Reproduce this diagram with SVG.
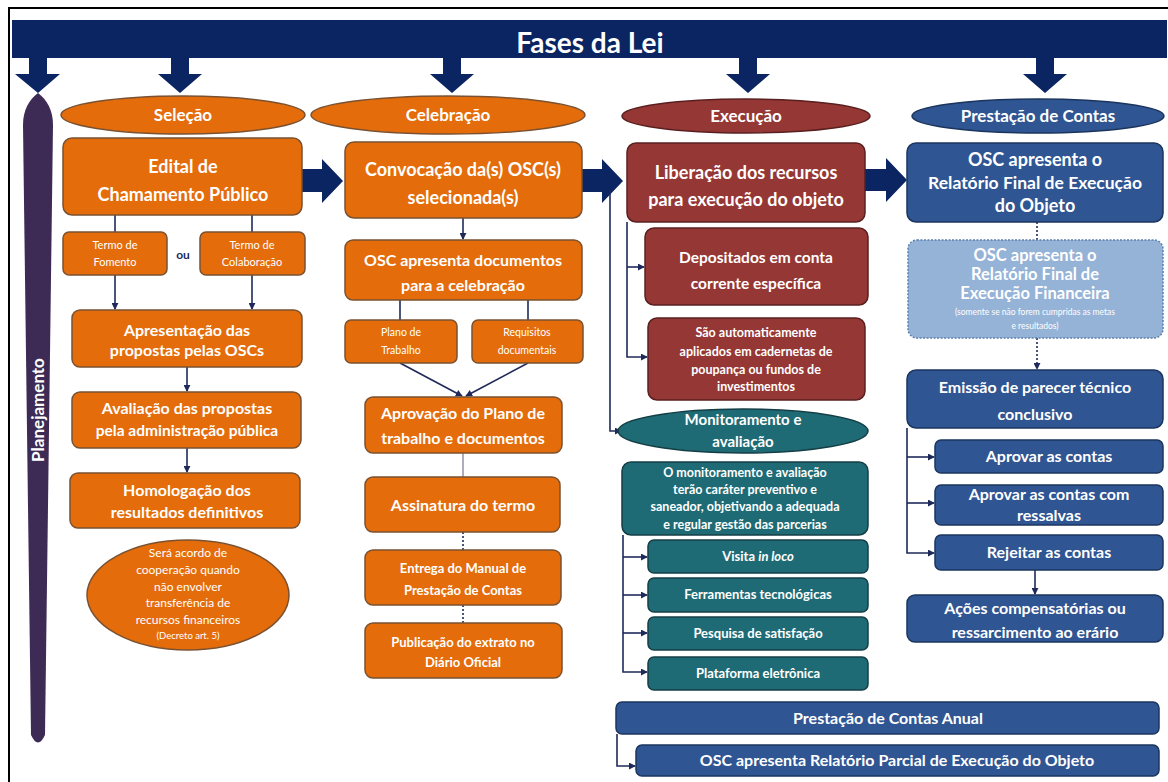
<svg xmlns="http://www.w3.org/2000/svg" width="1168" height="782" viewBox="0 0 1168 782">
<defs>
<style>
text{font-family:Lato,"Open Sans","Liberation Sans",sans-serif;font-weight:bold;fill:#fff;text-anchor:middle}
.o{fill:#e46c0a;stroke:#7a5232;stroke-width:1.5}
.r{fill:#953735;stroke:#5a2020;stroke-width:1.5}
.t{fill:#1f6b75;stroke:#143f46;stroke-width:1.5}
.b{fill:#2f5592;stroke:#1c355e;stroke-width:1.5}
.lb{fill:#95b3d7;stroke:#5b7fae;stroke-width:1.5;stroke-dasharray:2 1.5}
.nv{fill:#0b2462}
.ln{fill:none;stroke:#1f2a5a;stroke-width:1.6}
.dt{fill:none;stroke:#1f2a5a;stroke-width:1.6;stroke-dasharray:2 2}
.gl{fill:none;stroke:#8a8aa0;stroke-width:1.4}
.sm{font-weight:normal}
</style>
<marker id="ah" viewBox="0 0 8 8" refX="7" refY="4" markerWidth="7" markerHeight="7" markerUnits="userSpaceOnUse" orient="auto">
<path d="M0,0 L8,4 L0,8 Z" fill="#1f2a5a"/>
</marker>
</defs>
<rect width="1168" height="782" fill="#fff"/>
<g id="frame">
<path d="M9,782 V8 H1168" fill="none" stroke="#000" stroke-width="2"/>
</g>
<g id="banner">
<rect x="12" y="20" width="1155" height="38" class="nv"/>
<text x="590" y="53" font-size="28">Fases da Lei</text>
<path class="nv" d="M29,58 V74 H15 L38,93 L60,74 H47 V58 Z"/>
<path class="nv" d="M171,58 V74 H158 L180,93 L202,74 H189 V58 Z"/>
<path class="nv" d="M443,58 V74 H430 L452,93 L474,74 H461 V58 Z"/>
<path class="nv" d="M739,58 V74 H726 L748,93 L770,74 H757 V58 Z"/>
<path class="nv" d="M1036,58 V74 H1023 L1045,93 L1067,74 H1054 V58 Z"/>
</g>
<g id="planejamento">
<path d="M38,93 C47,100 53,110 53,125 L45,735 Q38,750 31,735 L23,125 C23,110 29,100 38,93 Z" fill="#3d2b56"/>
<text x="0" y="0" font-size="17" transform="translate(44,410) rotate(-90)">Planejamento</text>
</g>
<g id="connectors">
<path class="nv" d="M302,169 H322 V159 L343,181 L322,203 V192 H302 Z"/>
<path class="nv" d="M582,169 H602 V159 L623,181 L602,203 V192 H582 Z"/>
<path class="nv" d="M865,169 H886 V158 L907,180 L886,202 V191 H865 Z"/>
<path class="ln" d="M115,215 V232"/>
<path class="ln" d="M252,215 V232"/>
<path class="ln" d="M115,275 V309" marker-end="url(#ah)"/>
<path class="ln" d="M252,275 V309" marker-end="url(#ah)"/>
<path class="ln" d="M187,367 V391" marker-end="url(#ah)"/>
<path class="ln" d="M187,448 V472" marker-end="url(#ah)"/>
<path class="ln" d="M463,218 V239" marker-end="url(#ah)"/>
<path class="ln" d="M400,300 V320"/>
<path class="ln" d="M528,300 V320"/>
<path class="ln" d="M400,363 L462,396" marker-end="url(#ah)"/>
<path class="ln" d="M528,363 L466,396" marker-end="url(#ah)"/>
<path class="gl" d="M463,453 V477"/>
<path class="dt" d="M463,532 V550"/>
<path class="dt" d="M463,605 V623"/>
<path class="ln" d="M610,190 V431 H621" marker-end="url(#ah)"/>
<path class="ln" d="M627,222 V357 H647" marker-end="url(#ah)"/>
<path class="ln" d="M627,267 H644" marker-end="url(#ah)"/>
<path class="ln" d="M623,535 V672 H647" marker-end="url(#ah)"/>
<path class="ln" d="M623,557 H647" marker-end="url(#ah)"/>
<path class="ln" d="M623,595 H647" marker-end="url(#ah)"/>
<path class="ln" d="M623,633 H647" marker-end="url(#ah)"/>
<path class="dt" d="M1037,222 V240"/>
<path class="dt" d="M1037,338 V369" marker-end="url(#ah)"/>
<path class="ln" d="M907,428 V553 H934" marker-end="url(#ah)"/>
<path class="ln" d="M907,457 H934" marker-end="url(#ah)"/>
<path class="ln" d="M907,503 H934" marker-end="url(#ah)"/>
<path class="ln" d="M1035,570 V594" marker-end="url(#ah)"/>
<path class="ln" d="M617,734 V766 H635" marker-end="url(#ah)"/>
</g>
<g id="selecao">
<ellipse cx="183" cy="115" rx="122" ry="19" class="o"/>
<text x="183" y="121" font-size="17">Seleção</text>
</g>
<g id="edital">
<rect x="63" y="138" width="239" height="77" rx="9" class="o"/>
<text x="183" y="173" font-size="18">Edital de</text>
<text x="183" y="201" font-size="18">Chamamento  Público</text>
</g>
<g id="termo-fomento">
<rect x="63" y="232" width="104" height="43" rx="6" class="o"/>
<text x="115" y="249" font-size="11" class="sm">Termo de</text>
<text x="115" y="266" font-size="11" class="sm">Fomento</text>
</g>
<text id="ou" x="183" y="259" font-size="12" style="fill:#1f2a5a">ou</text>
<g id="termo-colaboracao">
<rect x="200" y="232" width="105" height="43" rx="6" class="o"/>
<text x="252" y="249" font-size="11" class="sm">Termo de</text>
<text x="252" y="266" font-size="11" class="sm">Colaboração</text>
</g>
<g id="apresentacao">
<rect x="72" y="310" width="230" height="57" rx="8" class="o"/>
<text x="187" y="336" font-size="16">Apresentação das</text>
<text x="187" y="356" font-size="16">propostas pelas OSCs</text>
</g>
<g id="avaliacao">
<rect x="72" y="392" width="229" height="56" rx="8" class="o"/>
<text x="187" y="414" font-size="16">Avaliação das propostas</text>
<text x="187" y="436" font-size="15.5">pela administração pública</text>
</g>
<g id="homologacao">
<rect x="70" y="473" width="230" height="55" rx="8" class="o"/>
<text x="187" y="496" font-size="16">Homologação dos</text>
<text x="187" y="518" font-size="16">resultados definitivos</text>
</g>
<g id="acordo">
<ellipse cx="188" cy="595" rx="101" ry="55" class="o"/>
<text x="188" y="557" font-size="12" class="sm">Será acordo de</text>
<text x="188" y="574" font-size="12" class="sm">cooperação quando</text>
<text x="188" y="591" font-size="12" class="sm">não envolver</text>
<text x="188" y="607" font-size="12" class="sm">transferência de</text>
<text x="188" y="624" font-size="12" class="sm">recursos financeiros</text>
<text x="188" y="639" font-size="9.5" class="sm">(Decreto art. 5)</text>
</g>
<g id="celebracao">
<ellipse cx="448" cy="115" rx="137" ry="19" class="o"/>
<text x="448" y="121" font-size="17">Celebração</text>
</g>
<g id="convocacao">
<rect x="345" y="142" width="237" height="76" rx="9" class="o"/>
<text x="463" y="176" font-size="18">Convocação  da(s) OSC(s)</text>
<text x="463" y="204" font-size="18">selecionada(s)</text>
</g>
<g id="osc-documentos">
<rect x="345" y="240" width="237" height="60" rx="8" class="o"/>
<text x="463" y="266" font-size="16">OSC apresenta documentos</text>
<text x="463" y="291" font-size="16">para a celebração</text>
</g>
<g id="plano-trabalho">
<rect x="345" y="320" width="112" height="43" rx="6" class="o"/>
<text x="401" y="336" font-size="10.5" class="sm">Plano de</text>
<text x="401" y="354" font-size="10.5" class="sm">Trabalho</text>
</g>
<g id="requisitos">
<rect x="472" y="320" width="111" height="43" rx="6" class="o"/>
<text x="527" y="336" font-size="10.5" class="sm">Requisitos</text>
<text x="527" y="354" font-size="10.5" class="sm">documentais</text>
</g>
<g id="aprovacao-plano">
<rect x="365" y="397" width="197" height="56" rx="8" class="o"/>
<text x="463" y="419" font-size="16">Aprovação do Plano de</text>
<text x="463" y="444" font-size="16">trabalho e documentos</text>
</g>
<g id="assinatura">
<rect x="365" y="477" width="195" height="55" rx="8" class="o"/>
<text x="463" y="511" font-size="16">Assinatura do termo</text>
</g>
<g id="entrega-manual">
<rect x="365" y="550" width="196" height="55" rx="8" class="o"/>
<text x="463" y="573" font-size="13">Entrega do Manual de</text>
<text x="463" y="595" font-size="13">Prestação de Contas</text>
</g>
<g id="publicacao">
<rect x="365" y="623" width="197" height="55" rx="8" class="o"/>
<text x="463" y="647" font-size="13">Publicação do extrato no</text>
<text x="463" y="667" font-size="13">Diário Oficial</text>
</g>
<g id="execucao">
<ellipse cx="746" cy="116" rx="124" ry="17" class="r"/>
<text x="746" y="122" font-size="17">Execução</text>
</g>
<g id="liberacao">
<rect x="627" y="143" width="238" height="79" rx="9" class="r"/>
<text x="746" y="179" font-size="18">Liberação  dos recursos</text>
<text x="746" y="206" font-size="18">para  execução do objeto</text>
</g>
<g id="depositados">
<rect x="645" y="228" width="223" height="77" rx="9" class="r"/>
<text x="756" y="263" font-size="15.5">Depositados em conta</text>
<text x="756" y="289" font-size="15.5">corrente específica</text>
</g>
<g id="aplicados">
<rect x="648" y="318" width="217" height="82" rx="9" class="r"/>
<text x="756" y="337" font-size="12.5">São automaticamente</text>
<text x="756" y="356" font-size="12.5">aplicados em cadernetas de</text>
<text x="756" y="374" font-size="12.5">poupança ou fundos de</text>
<text x="756" y="391" font-size="12.5">investimentos</text>
</g>
<g id="monitoramento">
<ellipse cx="743" cy="431" rx="125" ry="22" class="t"/>
<text x="743" y="425" font-size="15">Monitoramento e</text>
<text x="743" y="447" font-size="15">avaliação</text>
</g>
<g id="monitoramento-desc">
<rect x="622" y="462" width="246" height="73" rx="9" class="t"/>
<text x="745" y="477" font-size="12.5">O monitoramento e avaliação</text>
<text x="745" y="494" font-size="12.5">terão caráter preventivo e</text>
<text x="745" y="511" font-size="12.5">saneador, objetivando a adequada</text>
<text x="745" y="529" font-size="12.5">e regular gestão das parcerias</text>
</g>
<g id="visita">
<rect x="648" y="540" width="220" height="33" rx="6" class="t"/>
<text x="758" y="561" font-size="13">Visita <tspan font-style="italic">in loco</tspan></text>
</g>
<g id="ferramentas">
<rect x="648" y="578" width="220" height="34" rx="6" class="t"/>
<text x="758" y="599" font-size="13">Ferramentas tecnológicas</text>
</g>
<g id="pesquisa">
<rect x="648" y="617" width="220" height="33" rx="6" class="t"/>
<text x="758" y="638" font-size="13">Pesquisa de satisfação</text>
</g>
<g id="plataforma">
<rect x="648" y="657" width="220" height="33" rx="6" class="t"/>
<text x="758" y="678" font-size="13">Plataforma eletrônica</text>
</g>
<g id="prestacao">
<ellipse cx="1038" cy="116" rx="126" ry="17" class="b"/>
<text x="1038" y="122" font-size="17">Prestação de Contas</text>
</g>
<g id="relatorio-objeto">
<rect x="907" y="143" width="256" height="79" rx="9" class="b"/>
<text x="1035" y="166" font-size="18">OSC apresenta o</text>
<text x="1035" y="189" font-size="17.5">Relatório Final de Execução</text>
<text x="1035" y="212" font-size="18">do Objeto</text>
</g>
<g id="relatorio-financeiro">
<rect x="908" y="240" width="255" height="98" rx="9" class="lb"/>
<text x="1035" y="261" font-size="16.5">OSC apresenta o</text>
<text x="1035" y="280" font-size="16.5">Relatório Final de</text>
<text x="1035" y="299" font-size="16.5">Execução Financeira</text>
<text x="1035" y="315" font-size="8.5" class="sm">(somente se não forem cumpridas as metas</text>
<text x="1035" y="329" font-size="8.5" class="sm">e resultados)</text>
</g>
<g id="parecer">
<rect x="907" y="370" width="256" height="58" rx="9" class="b"/>
<text x="1035" y="393" font-size="16">Emissão de parecer técnico</text>
<text x="1035" y="420" font-size="16">conclusivo</text>
</g>
<g id="aprovar">
<rect x="935" y="440" width="228" height="33" rx="6" class="b"/>
<text x="1049" y="462" font-size="16">Aprovar as contas</text>
</g>
<g id="aprovar-ressalvas">
<rect x="935" y="485" width="228" height="40" rx="6" class="b"/>
<text x="1049" y="500" font-size="16">Aprovar as contas com</text>
<text x="1049" y="521" font-size="16">ressalvas</text>
</g>
<g id="rejeitar">
<rect x="935" y="535" width="228" height="35" rx="6" class="b"/>
<text x="1049" y="558" font-size="16">Rejeitar as contas</text>
</g>
<g id="acoes">
<rect x="907" y="595" width="256" height="47" rx="8" class="b"/>
<text x="1035" y="614" font-size="16">Ações compensatórias ou</text>
<text x="1035" y="638" font-size="16">ressarcimento ao erário</text>
</g>
<g id="anual">
<rect x="616" y="702" width="543" height="32" rx="6" class="b"/>
<text x="888" y="724" font-size="16">Prestação de Contas Anual</text>
</g>
<g id="relatorio-parcial">
<rect x="636" y="745" width="523" height="31" rx="6" class="b"/>
<text x="897" y="766" font-size="16">OSC apresenta Relatório Parcial de Execução do Objeto</text>
</g>
</svg>
